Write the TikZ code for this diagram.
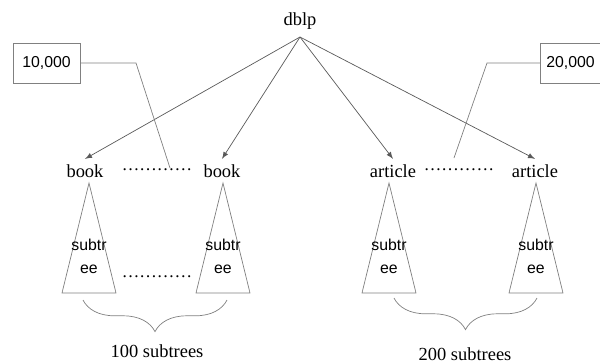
\documentclass[tikz,border=0pt]{standalone}
\usepackage{fontspec}
\setmainfont{Liberation Serif}
\setsansfont{Liberation Sans}
\usetikzlibrary{shapes,arrows,positioning,calc,decorations.pathreplacing}
\usepackage{xcolor}

\begin{document}
\begin{tikzpicture}[x=0.02cm, y=-0.02cm,
    tag/.style={font=\fontsize{10.5}{12}\selectfont, inner sep=3pt},
    dotrow/.style={font=\fontsize{10}{12}\selectfont, inner sep=0pt},
    countbox/.style={draw=gray, thin, font=\sffamily\fontsize{9}{11}\selectfont, minimum height=0.8cm},
    sub/.style={font=\sffamily\fontsize{9}{13}\selectfont, align=center, inner sep=0pt},
    link/.style={-latex, black!65, thin},
    callout/.style={gray, thin},
    tree/.style={draw=gray, thin},
    brc/.style={gray, thin, decorate, decoration={brace, amplitude=18pt}}]
    \useasboundingbox (0,0) rectangle (600,363);

    % Root and children
    \node[tag] (dblp) at (300,21) {dblp};
    \coordinate (root) at (300,37);
    \node[tag] (book1) at (85,171) {book};
    \node[tag] (book2) at (222,171) {book};
    \node[tag] (art1) at (393,171) {article};
    \node[tag] (art2) at (535,171) {article};
    \node[dotrow] (dots1) at (157,170) {\dots\dots\dots\dots};
    \node[dotrow] (dots2) at (459,170) {\dots\dots\dots\dots};

    \draw[link] (root) -- (book1.north);
    \draw[link] (root) -- (book2.north);
    \draw[link] (root) -- (art1.north);
    \draw[link] (root) -- (art2.north);

    % Counts
    \node[countbox, minimum width=1.34cm] (box1) at (46.5,63) {10,000};
    \node[countbox, minimum width=1.14cm] (box2) at (570.5,63) {20,000};
    \coordinate (bend1) at (136,63);
    \coordinate (tip1) at (170,168);
    \coordinate (bend2) at (487,63);
    \coordinate (tip2) at (454,158);
    \draw[callout] (box1.east) -- (bend1) -- (tip1);
    \draw[callout] (box2.west) -- (bend2) -- (tip2);

    % Subtrees
    \foreach \x/\n in {89/t1, 223/t2, 389/t3, 536/t4} {
        \draw[tree] (\x,183) -- (\x-27,293) -- (\x+27,293) -- cycle;
        \node[sub] (\n) at (\x,256) {subtr\\ee};
    }
    \node[dotrow] (dots3) at (157,277) {\dots\dots\dots\dots};

    % Braces
    \draw[brc] (227,300) -- (83,300);
    \draw[brc] (537,298) -- (394,298);
    \node[tag] (n1) at (157,351) {100 subtrees};
    \node[tag] (n2) at (465,354) {200 subtrees};
\end{tikzpicture}
\end{document}
